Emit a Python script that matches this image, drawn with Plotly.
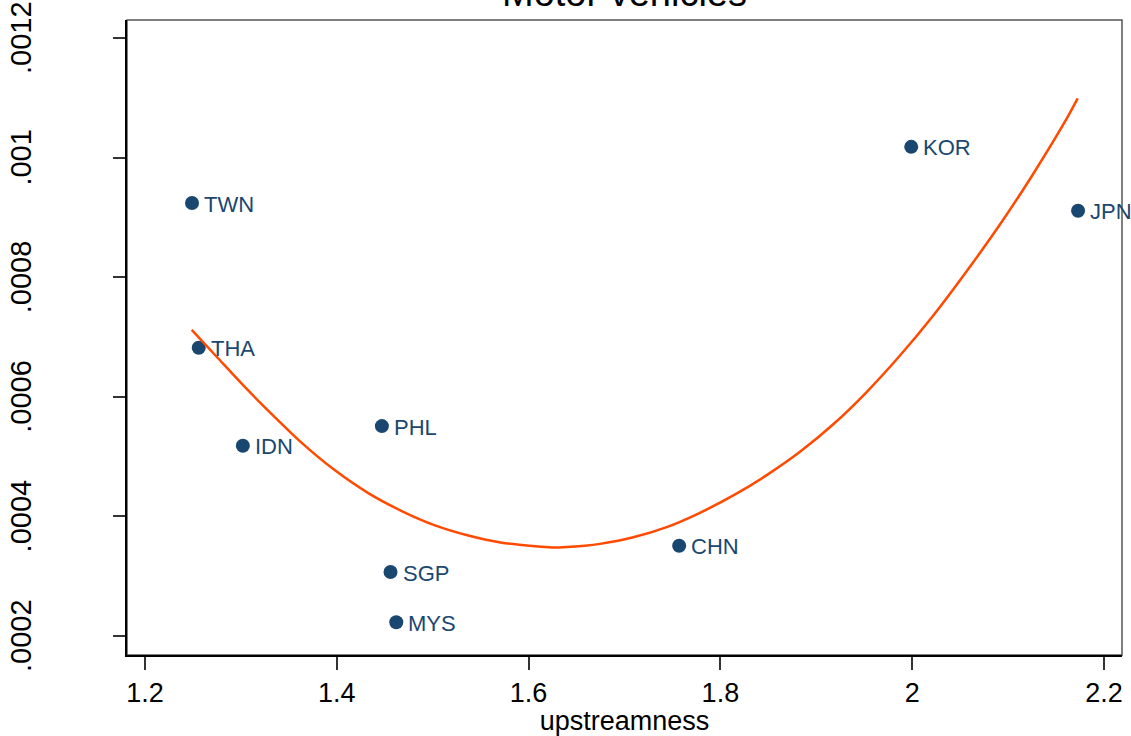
import plotly.graph_objects as go

# Country observations: upstreamness vs. share
countries = ["TWN", "THA", "IDN", "PHL", "SGP", "MYS", "CHN", "KOR", "JPN"]
upstreamness = [1.249, 1.256, 1.302, 1.447, 1.456, 1.462, 1.757, 1.999, 2.173]
share = [0.000924, 0.000682, 0.000518, 0.000551, 0.000307, 0.000223, 0.000351, 0.001018, 0.000911]

# Fitted curve
fit_x = [1.2487, 1.2764, 1.3043, 1.3321, 1.3634, 1.3981, 1.4328, 1.4677, 1.5024,
         1.5371, 1.5720, 1.6067, 1.6241, 1.6588, 1.6745, 1.7092, 1.7440, 1.7787,
         1.8135, 1.8483, 1.8830, 1.9177, 1.9525, 1.9873, 2.0220, 2.0568, 2.0915,
         2.1263, 2.1611, 2.1726]
fit_y = [0.000712, 0.000664, 0.000616, 0.000571, 0.000523, 0.000477, 0.000439,
         0.000409, 0.000385, 0.000368, 0.000356, 0.000350, 0.000348, 0.000351,
         0.000354, 0.000365, 0.000382, 0.000406, 0.000435, 0.000469, 0.000508,
         0.000554, 0.000608, 0.000669, 0.000736, 0.000810, 0.000888, 0.000973,
         0.001065, 0.001099]

x_ticks = [1.2, 1.4, 1.6, 1.8, 2.0, 2.2]
x_tick_labels = ["1.2", "1.4", "1.6", "1.8", "2", "2.2"]
y_ticks = [0.0002, 0.0004, 0.0006, 0.0008, 0.001, 0.0012]
y_tick_labels = [".0002", ".0004", ".0006", ".0008", ".001", ".0012"]

title_text = "Motor vehicles"
x_title = "upstreamness"

FONT = "Liberation Sans, Arial, Helvetica, sans-serif"
NAVY = "#1a476f"
FIT = "#ff4a00"

fig = go.Figure()
fig.add_trace(go.Scatter(
    x=upstreamness, y=share, mode="markers",
    marker=dict(size=14, color=NAVY, line=dict(width=0)),
    showlegend=False, hoverinfo="skip",
))
fig.add_trace(go.Scatter(
    x=fit_x, y=fit_y, mode="lines",
    line=dict(color=FIT, width=2.5, shape="spline", smoothing=0.6),
    showlegend=False, hoverinfo="skip",
))

annotations = []
# marker labels to the right of each point
for c, xv, yv in zip(countries, upstreamness, share):
    annotations.append(dict(
        x=xv, y=yv, xref="x", yref="y", text=c, showarrow=False,
        xanchor="left", yanchor="middle", xshift=10, yshift=-1,
        font=dict(family=FONT, size=22, color=NAVY),
    ))

# vertical y tick labels in the left margin
for v, lbl in zip(y_ticks, y_tick_labels):
    annotations.append(dict(
        x=0, y=v, xref="paper", yref="y", text=lbl, showarrow=False,
        textangle=-90, xanchor="right", yanchor="middle", xshift=-88,
        font=dict(family=FONT, size=29, color="black"),
    ))

# title sitting above the plot region
annotations.append(dict(
    x=0.5, y=1.0, xref="paper", yref="paper", text=title_text, showarrow=False,
    xanchor="center", yanchor="bottom", yshift=4,
    font=dict(family=FONT, size=38, color="black"),
))

fig.update_layout(
    width=1131, height=736,
    margin=dict(l=127, r=9, t=20, b=81, pad=0),
    paper_bgcolor="white", plot_bgcolor="white",
    font=dict(family=FONT, color="black"),
    annotations=annotations,
    shapes=[dict(type="rect", xref="paper", yref="paper", x0=0, y0=0, x1=1, y1=1,
                 line=dict(color="#555555", width=1.5), layer="below")],
    xaxis=dict(
        range=[1.1812, 2.2188], tickvals=x_ticks, ticktext=x_tick_labels,
        ticks="outside", ticklen=13, tickwidth=1.5, tickcolor="#333333",
        showline=True, linecolor="black", linewidth=2,
        showgrid=False, zeroline=False,
        tickfont=dict(family=FONT, size=27, color="black"),
        title=dict(text=x_title, font=dict(family=FONT, size=27, color="black"), standoff=0),
    ),
    yaxis=dict(
        range=[0.0001682, 0.0012301], tickvals=y_ticks, showticklabels=False,
        ticks="outside", ticklen=12, tickwidth=1.5, tickcolor="#333333",
        showline=True, linecolor="black", linewidth=2,
        showgrid=False, zeroline=False,
    ),
)

fig.write_html("out.html")
